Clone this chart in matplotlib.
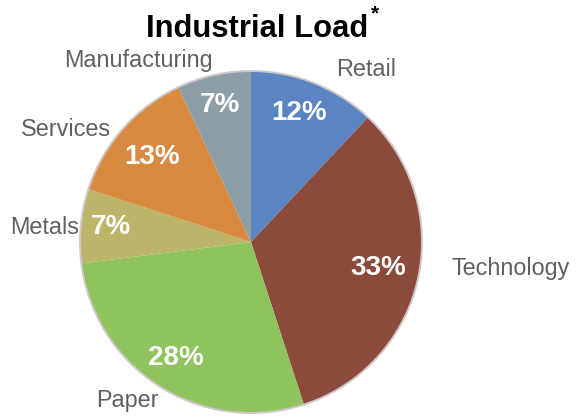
import matplotlib
matplotlib.use("Agg")
import matplotlib.pyplot as plt
from matplotlib.patches import Circle

sectors = ["Retail", "Technology", "Paper", "Metals", "Services", "Manufacturing"]
shares = [12, 33, 28, 7, 13, 7]
colors = ["#5b85c2", "#8c4a3c", "#8fc35d", "#bcb468", "#d88a40", "#8c9fa8"]

# label spots in pixel space (x, y from top)
name_pos = [(366, 70), (511, 268), (127, 400), (45, 227), (66, 130), (138, 60)]
pct_pos = [(299, 113), (378, 268), (176, 358), (111, 227), (152, 157), (220, 105)]

plt.rcParams["font.family"] = ["Liberation Sans", "DejaVu Sans"]

fig = plt.figure(figsize=(5.76, 4.2), dpi=100)
ax = fig.add_axes([0, 0, 1, 1])

H = 420
cx, cy, r = 251, H - 242, 171
ax.pie(shares, colors=colors, startangle=90, counterclock=False,
       center=(cx, cy), radius=r, frame=True,
       wedgeprops=dict(linewidth=0))
ax.add_patch(Circle((cx, cy), r, fill=False, edgecolor="#cfc8c8", linewidth=1.4))
ax.set_xlim(0, 576)
ax.set_ylim(0, H)
ax.axis("off")

for name, (x, y) in zip(sectors, name_pos):
    ax.text(x, H - y, name, ha="center", va="center", fontsize=16.8,
            color="#606060")

for val, (x, y) in zip(shares, pct_pos):
    ax.text(x, H - y, f"{val}%", ha="center", va="center", fontsize=20,
            fontweight="bold", color="white")

ax.text(257, H - 29, "Industrial Load", ha="center", va="center",
        fontsize=22.3, fontweight="bold", color="black")
ax.text(375, H - 14, "*", ha="center", va="center", fontsize=15,
        fontweight="bold", color="black")

fig.savefig("out.png", dpi=100)
